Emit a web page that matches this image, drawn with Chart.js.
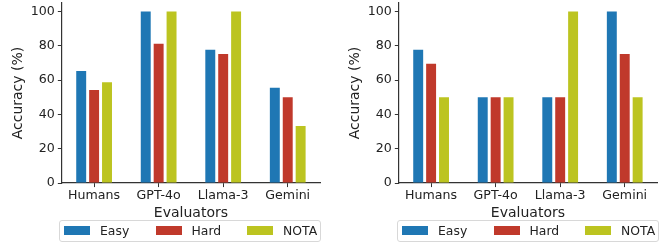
<!DOCTYPE html>
<html>
<head>
<meta charset="utf-8">
<script src="https://cdn.jsdelivr.net/npm/chart.js"></script>
<style>
  body { margin: 0; background: #fff; font-family: 'DejaVu Sans', sans-serif; }
  .wrap { position: relative; width: 667px; height: 249px; }
  .box { position: absolute; top: 0; width: 330px; height: 249px; }
  .legend {
    position: absolute; top: 220px; width: 260px; height: 20px;
    border: 1px solid #d8d8d8; border-radius: 3px;
  }
  .legend span.patch { position: absolute; top: 5px; width: 26px; height: 9px; }
  .legend span.txt { position: absolute; top: 1px; font-size: 12.4px; color: #222; line-height: 17px; }
</style>
</head>
<body>
<div class="wrap">
  <div class="box" style="left:0"><canvas id="left"></canvas></div>
  <div class="box" style="left:337px"><canvas id="right"></canvas></div>
  <div class="legend" id="legendLeft" style="left:59px"></div>
  <div class="legend" id="legendRight" style="left:397px"></div>
</div>
<script>
  const evaluators = ["Humans", "GPT-4o", "Llama-3", "Gemini"];
  const seriesNames = ["Easy", "Hard", "NOTA"];
  const yTicks = [0, 20, 40, 60, 80, 100];

  // left panel
  const leftEasy = [65.4, 100, 77.8, 55.6];
  const leftHard = [54.2, 81.2, 75.3, 50];
  const leftNota = [58.8, 100, 100, 33.3];

  // right panel
  const rightEasy = [77.8, 50, 50, 100];
  const rightHard = [69.6, 50, 50, 75.3];
  const rightNota = [50, 50, 100, 50];

  const colors = ["#1f77b4", "#c0392b", "#bcc420"];
  const font = "'DejaVu Sans', sans-serif";

  function buildLegend(id) {
    const el = document.getElementById(id);
    seriesNames.forEach((name, i) => {
      const p = document.createElement("span");
      p.className = "patch";
      p.style.left = (4 + i * 91.5) + "px";
      p.style.background = colors[i];
      const t = document.createElement("span");
      t.className = "txt";
      t.style.left = (40 + i * 91.5) + "px";
      t.textContent = name;
      el.appendChild(p);
      el.appendChild(t);
    });
  }

  function makeChart(id, easy, hard, nota) {
    const data = [easy, hard, nota];
    new Chart(document.getElementById(id), {
      type: "bar",
      data: {
        labels: evaluators,
        datasets: seriesNames.map((name, i) => ({
          label: name,
          data: data[i],
          backgroundColor: colors[i],
          categoryPercentage: 0.6,
          barPercentage: 0.77
        }))
      },
      options: {
        responsive: true,
        maintainAspectRatio: false,
        animation: false,
        layout: { padding: { left: 4, right: 10, top: 3, bottom: 27 } },
        plugins: {
          tooltip: { enabled: false },
          legend: { display: false }
        },
        scales: {
          x: {
            grid: { display: true, drawOnChartArea: false, offset: false, tickLength: 4, color: "#333" },
            border: { display: true, color: "#333", width: 1.2 },
            ticks: { font: { family: font, size: 12.6 }, color: "#222", padding: 1 },
            title: { display: true, text: "Evaluators", font: { family: font, size: 14 }, color: "#222", padding: { top: 1, bottom: 0 } }
          },
          y: {
            min: 0,
            max: 105,
            afterBuildTicks: (s) => { s.ticks = yTicks.map(v => ({ value: v })); },
            afterFit: (s) => { s.paddingTop = 0; s.paddingBottom = 0; },
            grid: { display: true, drawOnChartArea: false, tickLength: 4, color: "#333" },
            border: { display: true, color: "#333", width: 1.2 },
            ticks: { font: { family: font, size: 12.6 }, color: "#222", padding: 3 },
            title: { display: true, text: "Accuracy (%)", font: { family: font, size: 14 }, color: "#222", padding: { top: 6, bottom: 1 } }
          }
        }
      }
    });
  }

  makeChart("left", leftEasy, leftHard, leftNota);
  makeChart("right", rightEasy, rightHard, rightNota);
  buildLegend("legendLeft");
  buildLegend("legendRight");
</script>
</body>
</html>
